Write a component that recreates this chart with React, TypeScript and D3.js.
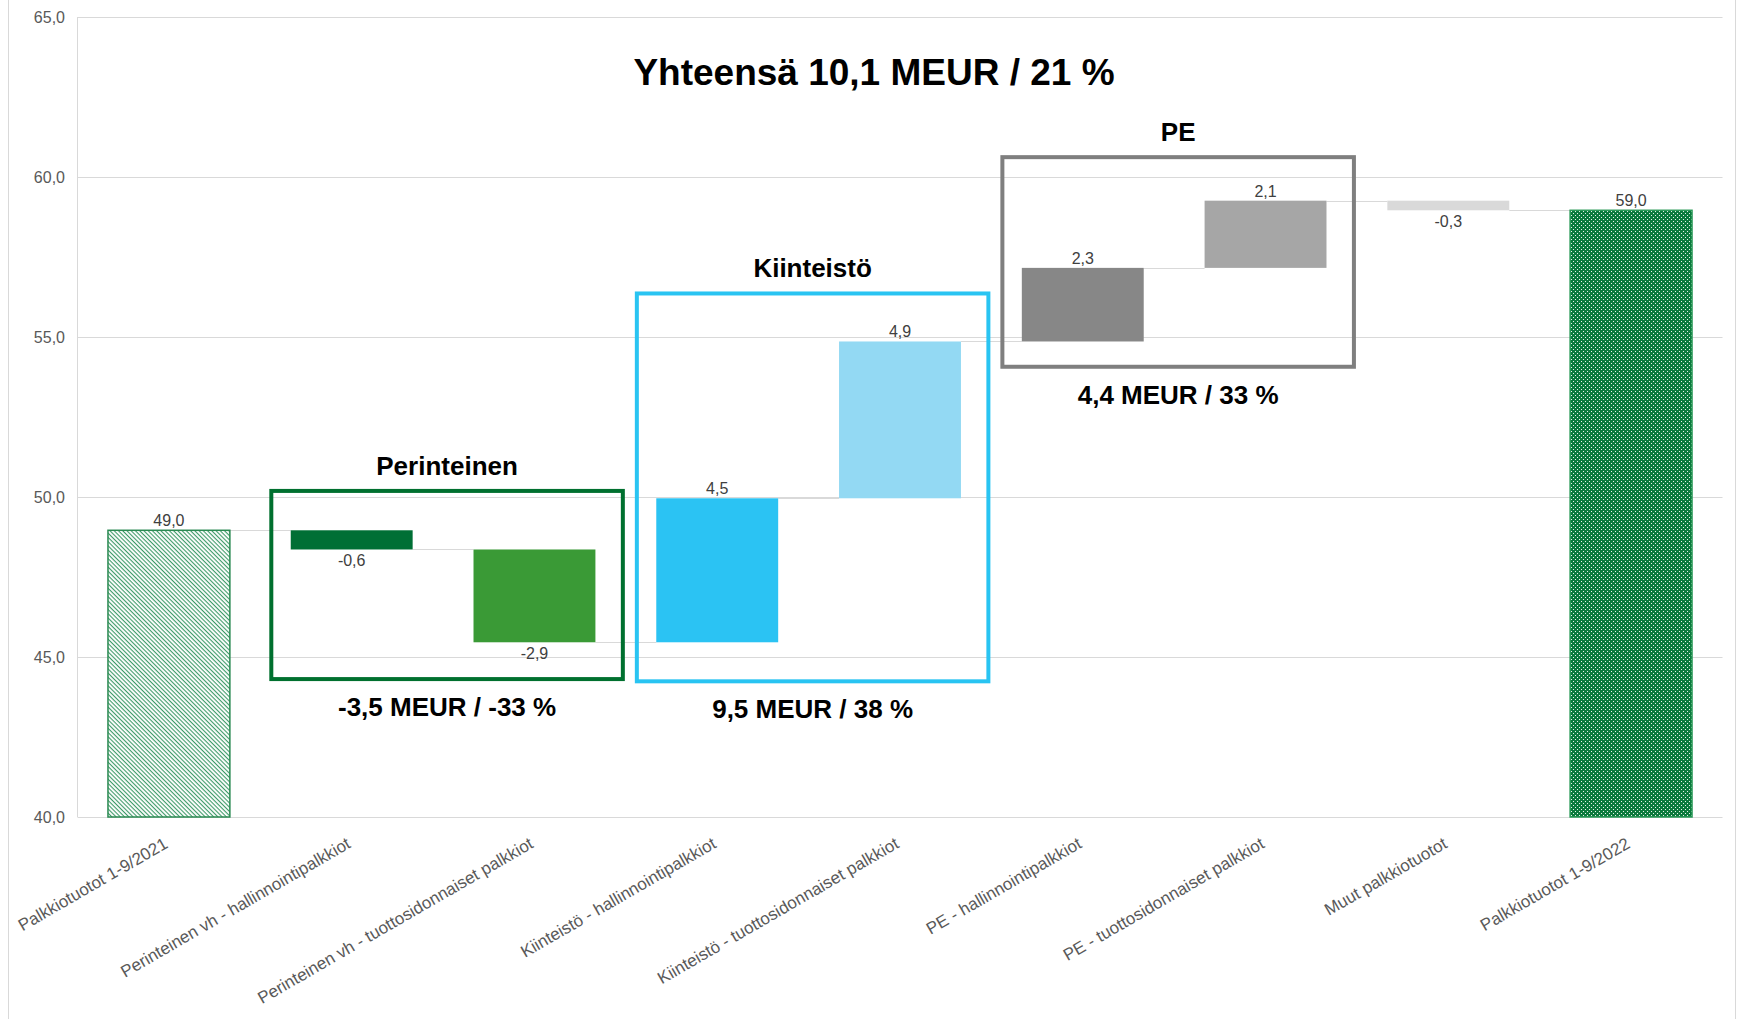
import React, { useEffect, useRef } from "react";
import * as d3 from "d3";

// categories of the waterfall
const categories = [
  "Palkkiotuotot 1-9/2021",
  "Perinteinen vh - hallinnointipalkkiot",
  "Perinteinen vh - tuottosidonnaiset palkkiot",
  "Kiinteistö - hallinnointipalkkiot",
  "Kiinteistö - tuottosidonnaiset palkkiot",
  "PE - hallinnointipalkkiot",
  "PE - tuottosidonnaiset palkkiot",
  "Muut palkkiotuotot",
  "Palkkiotuotot 1-9/2022"
];
// first value is the starting total, last one is computed
const values = [48.96, -0.6, -2.9, 4.5, 4.9, 2.3, 2.1, -0.3];
const barFills = [
  "url(#hatch)",
  "#006f35",
  "#3a9a36",
  "#2bc3f3",
  "#93d9f3",
  "#878787",
  "#a6a6a6",
  "#d9d9d9",
  "url(#dots)"
];
const yTicks = [40, 45, 50, 55, 60, 65];

const groupTitles = ["Perinteinen", "Kiinteistö", "PE"];
const groupSummaries = ["-3,5 MEUR / -33 %", "9,5 MEUR / 38 %", "4,4 MEUR / 33 %"];
const groupRanges = [[1, 2], [3, 4], [5, 6]];
const groupTops = [50.19, 56.36, 60.62];
const groupBottoms = [44.31, 44.24, 54.07];
const groupColors = ["#00702f", "#29c4f2", "#7f7f7f"];

const title = "Yhteensä 10,1 MEUR / 21 %";

const W = 1737;
const H = 1019;
const FONT = "'Liberation Sans', Arial, sans-serif";

export default function App() {
  const ref = useRef<SVGSVGElement>(null);

  useEffect(() => {
    const svg = d3.select(ref.current);
    svg.selectAll("*").remove();

    const locale = d3.formatLocale({
      decimal: ",",
      thousands: " ",
      grouping: [3],
      currency: ["", " €"],
      minus: "-"
    });
    const fmt = locale.format(".1f");

    // running totals
    let run = 0;
    const bars = categories.map((c, i) => {
      if (i === 0) {
        run = values[0];
        return { c, start: 40, end: run, v: run, total: true };
      }
      if (i === categories.length - 1) {
        return { c, start: 40, end: run, v: run, total: true };
      }
      const s = run;
      run += values[i];
      return { c, start: s, end: run, v: values[i], total: false };
    });

    const x = d3
      .scaleBand()
      .domain(categories)
      .range([77.5, 1722.5])
      .paddingInner(0.333)
      .paddingOuter(0.1667);
    const y = d3.scaleLinear().domain([40, 65]).range([817, 17]);
    const step = x.step();

    const defs = svg.append("defs");
    const hatch = defs
      .append("pattern")
      .attr("id", "hatch")
      .attr("patternUnits", "userSpaceOnUse")
      .attr("width", 3)
      .attr("height", 3)
      .attr("patternTransform", "rotate(45)");
    hatch.append("rect").attr("width", 3).attr("height", 3).attr("fill", "#ffffff");
    hatch.append("rect").attr("width", 3).attr("height", 1.1).attr("fill", "#3d9a68");

    const dots = defs
      .append("pattern")
      .attr("id", "dots")
      .attr("patternUnits", "userSpaceOnUse")
      .attr("width", 4)
      .attr("height", 4);
    dots.append("rect").attr("width", 4).attr("height", 4).attr("fill", "#0b7a3d");
    dots.append("rect").attr("x", 1).attr("y", 1).attr("width", 1).attr("height", 1).attr("fill", "#e6f4ea");
    dots.append("rect").attr("x", 3).attr("y", 3).attr("width", 1).attr("height", 1).attr("fill", "#e6f4ea");

    // outer frame
    svg.append("line").attr("x1", 8.5).attr("x2", 8.5).attr("y1", 0).attr("y2", H)
      .attr("stroke", "#d9d9d9");
    svg.append("line").attr("x1", 1735.5).attr("x2", 1735.5).attr("y1", 0).attr("y2", H)
      .attr("stroke", "#d9d9d9");

    // gridlines
    svg.append("g")
      .selectAll("line")
      .data(yTicks)
      .enter()
      .append("line")
      .attr("x1", 77.5)
      .attr("x2", 1722.5)
      .attr("y1", d => Math.round(y(d)) + 0.5)
      .attr("y2", d => Math.round(y(d)) + 0.5)
      .attr("stroke", "#d9d9d9")
      .attr("stroke-width", 1);
    svg.append("line")
      .attr("x1", 77.5).attr("x2", 77.5)
      .attr("y1", y(65)).attr("y2", y(40))
      .attr("stroke", "#d9d9d9");

    svg.append("g")
      .selectAll("text")
      .data(yTicks)
      .enter()
      .append("text")
      .attr("x", 65)
      .attr("y", d => y(d))
      .attr("dy", "0.35em")
      .attr("text-anchor", "end")
      .attr("font-family", FONT)
      .attr("font-size", 16)
      .attr("fill", "#595959")
      .text(d => fmt(d));

    // connectors
    svg.append("g")
      .selectAll("line")
      .data(bars.slice(0, -1))
      .enter()
      .append("line")
      .attr("x1", d => x(d.c)! + x.bandwidth())
      .attr("x2", (d, i) => x(categories[i + 1])!)
      .attr("y1", d => Math.round(y(d.end)) + 0.5)
      .attr("y2", d => Math.round(y(d.end)) + 0.5)
      .attr("stroke", "#d9d9d9")
      .attr("stroke-width", 1.2);

    // bars
    svg.append("g")
      .selectAll("rect")
      .data(bars)
      .enter()
      .append("rect")
      .attr("x", d => x(d.c)!)
      .attr("width", x.bandwidth())
      .attr("y", d => y(Math.max(d.start, d.end)))
      .attr("height", d => Math.abs(y(d.start) - y(d.end)))
      .attr("fill", (d, i) => barFills[i])
      .attr("stroke", (d, i) => (d.total ? (i === 0 ? "#2a8a52" : "#2a9a58") : "none"))
      .attr("stroke-width", 1.5);

    // data labels
    svg.append("g")
      .selectAll("text")
      .data(bars)
      .enter()
      .append("text")
      .attr("x", d => x(d.c)! + x.bandwidth() / 2)
      .attr("y", d =>
        d.v >= 0 ? y(Math.max(d.start, d.end)) - 4 : y(Math.min(d.start, d.end)) + 17
      )
      .attr("text-anchor", "middle")
      .attr("font-family", FONT)
      .attr("font-size", 16)
      .attr("fill", "#404040")
      .text(d => fmt(d.v));

    // x labels
    svg.append("g")
      .selectAll("text")
      .data(categories)
      .enter()
      .append("text")
      .attr("transform", d => `translate(${x(d)! + x.bandwidth() / 2},${847}) rotate(-30)`)
      .attr("text-anchor", "end")
      .attr("font-family", FONT)
      .attr("font-size", 17)
      .attr("fill", "#595959")
      .text(d => d);

    // group boxes
    const g = svg.append("g");
    groupTitles.forEach((t, i) => {
      const [a, b] = groupRanges[i];
      const x0 = x(categories[a])! - (step - x.bandwidth()) / 2 + 11;
      const x1 = x(categories[b])! + x.bandwidth() + (step - x.bandwidth()) / 2 - 3;
      const yt = y(groupTops[i]);
      const yb = y(groupBottoms[i]);
      g.append("rect")
        .attr("x", x0)
        .attr("y", yt)
        .attr("width", x1 - x0)
        .attr("height", yb - yt)
        .attr("fill", "none")
        .attr("stroke", groupColors[i])
        .attr("stroke-width", 4);
      g.append("text")
        .attr("x", (x0 + x1) / 2)
        .attr("y", yt - 16)
        .attr("text-anchor", "middle")
        .attr("font-family", FONT)
        .attr("font-weight", "bold")
        .attr("font-size", 26)
        .attr("fill", "#000")
        .text(t);
      g.append("text")
        .attr("x", (x0 + x1) / 2)
        .attr("y", yb + 37)
        .attr("text-anchor", "middle")
        .attr("font-family", FONT)
        .attr("font-weight", "bold")
        .attr("font-size", 26)
        .attr("fill", "#000")
        .text(groupSummaries[i]);
    });

    svg.append("text")
      .attr("x", 874)
      .attr("y", 85)
      .attr("text-anchor", "middle")
      .attr("font-family", FONT)
      .attr("font-weight", "bold")
      .attr("font-size", 37)
      .attr("fill", "#000")
      .text(title);
  }, []);

  return (
    <svg
      ref={ref}
      width={W}
      height={H}
      style={{ position: "absolute", left: 0, top: 0, background: "#fff" }}
    />
  );
}
